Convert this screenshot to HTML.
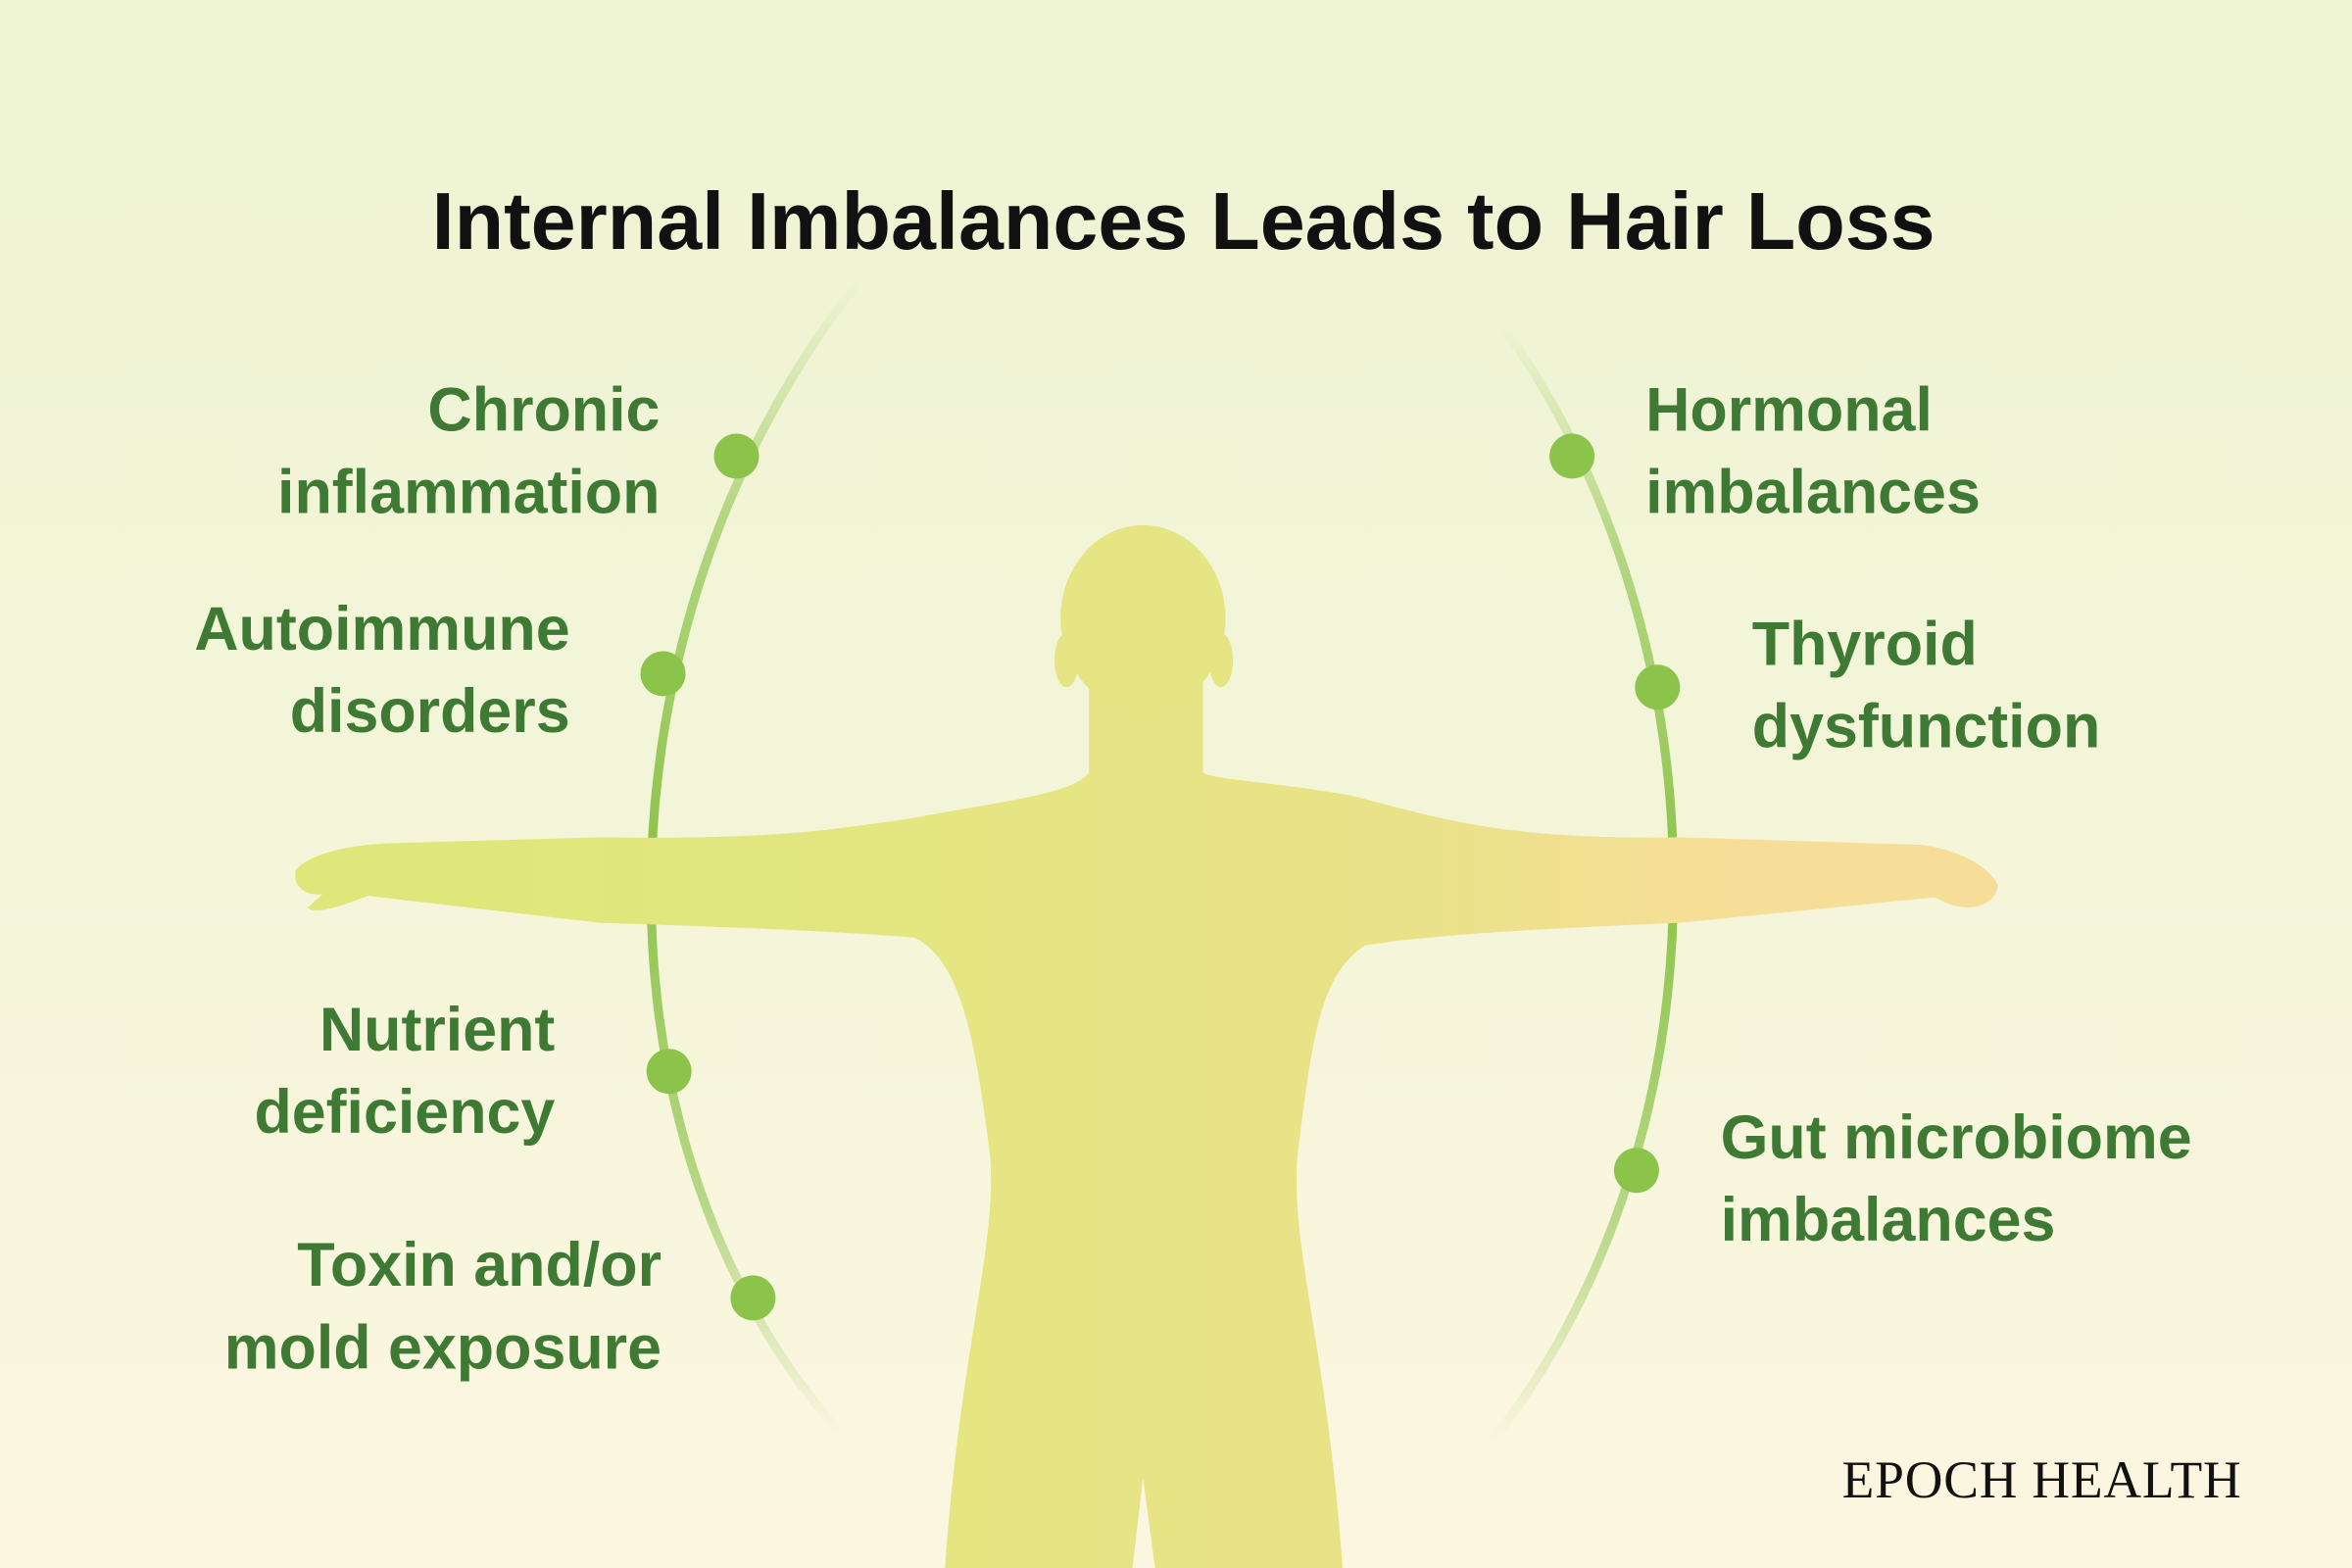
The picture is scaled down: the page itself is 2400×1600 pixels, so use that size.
<!DOCTYPE html>
<html><head><meta charset="utf-8"><style>
html,body{margin:0;padding:0;width:2400px;height:1600px;overflow:hidden}
svg{display:block}
</style></head><body>
<svg width="2400" height="1600" viewBox="0 0 1568 1045" preserveAspectRatio="none" xmlns="http://www.w3.org/2000/svg">
<defs>
<linearGradient id="bg" x1="0" y1="0" x2="0" y2="1">
<stop offset="0" stop-color="#eef4d3"/><stop offset="0.5" stop-color="#f3f5d8"/><stop offset="1" stop-color="#fcf6e1"/>
</linearGradient>
<linearGradient id="body" x1="0" y1="0" x2="1" y2="0">
<stop offset="0.12" stop-color="#dfe77a"/><stop offset="0.45" stop-color="#e6e584"/><stop offset="0.65" stop-color="#e9e288"/><stop offset="0.85" stop-color="#f7de98"/>
</linearGradient>
<linearGradient id="arcL" x1="0" y1="0" x2="0" y2="1">
<stop offset="0" stop-color="#8cc34a" stop-opacity="0"/><stop offset="0.2" stop-color="#8cc34a" stop-opacity="0.6"/><stop offset="0.5" stop-color="#8cc34a"/><stop offset="0.8" stop-color="#8cc34a" stop-opacity="0.6"/><stop offset="1" stop-color="#8cc34a" stop-opacity="0"/>
</linearGradient>
</defs>
<rect width="1568" height="1045" fill="url(#bg)"/>
<text x="789" y="166" text-anchor="middle" font-family="Liberation Sans, sans-serif" font-weight="bold" font-size="54" fill="#111">Internal Imbalances Leads to Hair Loss</text>
<path d="M 575,185 C 400,400 380,750 560,955" fill="none" stroke="url(#arcL)" stroke-width="6"/>
<path d="M 1000,215 C 1150,420 1160,750 995,960" fill="none" stroke="url(#arcL)" stroke-width="6"/>
<path fill="url(#body)" d="M 726,440 L 726,515 C 715,530 660,535 610,545 C 560,552 520,560 400,558 L 260,562 C 230,563 205,570 197,580 C 195,592 205,597 215,596 L 205,605 C 210,610 230,603 245,597 L 400,615 C 500,618 580,622 610,625 C 640,640 650,690 660,770 C 665,830 640,900 630,1045 L 755,1045 L 762,985 L 770,1045 L 895,1045 C 885,900 860,830 865,770 C 875,690 880,650 910,630 C 960,622 1050,618 1120,615 L 1290,598 C 1310,610 1330,605 1332,590 C 1325,575 1300,565 1280,563 L 1120,558 C 1000,560 960,545 900,530 C 840,520 812,520 802,515 L 802,440 Z"/>
<ellipse cx="762" cy="412" rx="55" ry="62" fill="#e6e584"/>
<ellipse cx="711" cy="440" rx="8" ry="18" fill="#e6e584"/>
<ellipse cx="814" cy="440" rx="8" ry="18" fill="#e6e584"/>
<g fill="#8cc34a">
<circle cx="491" cy="304" r="15"/><circle cx="442" cy="449" r="15"/><circle cx="446" cy="714" r="15"/><circle cx="502" cy="865" r="15"/>
<circle cx="1048" cy="304" r="15"/><circle cx="1105" cy="458" r="15"/><circle cx="1091" cy="780" r="15"/>
</g>
<g font-family="Liberation Sans, sans-serif" font-weight="bold" font-size="41" fill="#3f7a35">
<g text-anchor="end">
<text x="440" y="287">Chronic</text><text x="440" y="342">inflammation</text>
<text x="380" y="433">Autoimmune</text><text x="380" y="488">disorders</text>
<text x="370" y="700">Nutrient</text><text x="370" y="755">deficiency</text>
<text x="441" y="857">Toxin and/or</text><text x="441" y="912">mold exposure</text>
</g>
<text x="1097" y="287">Hormonal</text><text x="1097" y="342">imbalances</text>
<text x="1168" y="443">Thyroid</text><text x="1168" y="498">dysfunction</text>
<text x="1147" y="772">Gut microbiome</text><text x="1147" y="827">imbalances</text>
</g>
<text x="1494" y="998" text-anchor="end" font-family="Liberation Serif, serif" font-size="35" fill="#111" textLength="266">EPOCH HEALTH</text>
</svg>
</body></html>
